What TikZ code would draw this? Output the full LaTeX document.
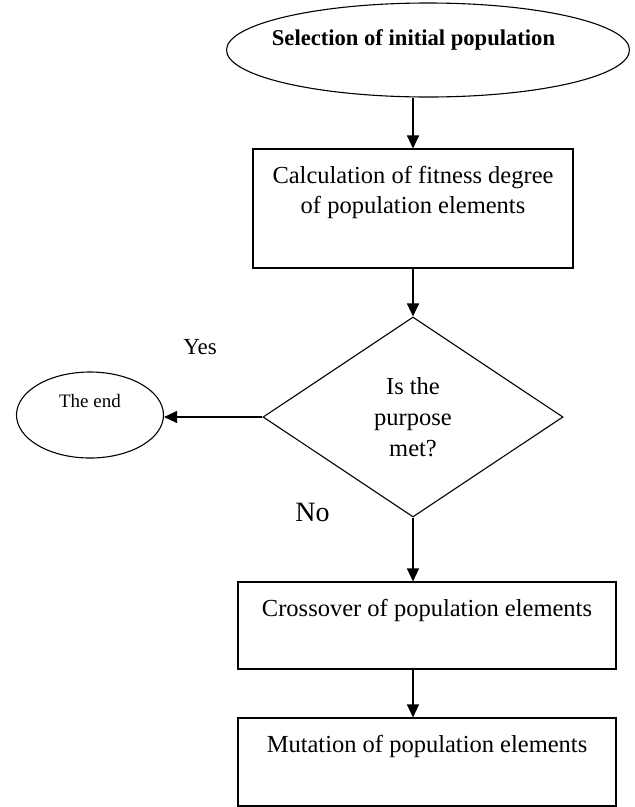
\documentclass[tikz,border=0pt]{standalone}
\usepackage{fontspec}
\setmainfont{Liberation Serif}
\usetikzlibrary{positioning,shapes.geometric,arrows.meta}
\tikzset{
    block/.style={
        rectangle,
        draw,
        line width=1.1pt,
        minimum width=320pt,
        minimum height=119pt
    },
    blocktext/.style={
        anchor=north,
        yshift=-14pt,
        align=center,
        font=\fontsize{24.5}{30}\selectfont
    },
    decision/.style={
        diamond,
        draw,
        line width=1.1pt,
        aspect=1.5,
        minimum width=300pt,
        minimum height=200pt,
        inner sep=0pt,
        align=center,
        font=\fontsize{24.5}{31}\selectfont
    },
    terminal/.style={ellipse, draw, line width=1.1pt},
    arrow/.style={-{Triangle[length=13pt,width=12pt]}, line width=1.1pt}
}

\begin{document}
\begin{tikzpicture}[x=1pt,y=-1pt]
    \useasboundingbox (0,0) rectangle (635,807);

    \node[terminal, minimum width=403pt, minimum height=94pt,
          label={[name=sellbl, xshift=-14.5pt, yshift=10pt, font=\bfseries\fontsize{22.6}{27}\selectfont]center:Selection of initial population}] (sel) at (428,50) {};
    \node[block, label={[blocktext, name=calclbl]90:Calculation of fitness degree\\of population elements}] (calc) at (413,208.5) {};
    \node[decision] (check) at (413,417) {Is the\\purpose\\met?};
    \node[terminal, minimum width=147pt, minimum height=86pt,
          label={[name=endlbl, yshift=14pt, font=\fontsize{19}{23}\selectfont]center:The end}] (theend) at (90,415) {};
    \node[font=\fontsize{23}{27}\selectfont] (yes) at (200,347) {Yes};
    \node[font=\fontsize{28}{33}\selectfont] (no) at (312.5,512.5) {No};
    \node[block, minimum width=378pt, minimum height=87pt,
          label={[blocktext, name=crosslbl]90:Crossover of population elements}] (cross) at (427,625.5) {};
    \node[block, minimum width=378pt, minimum height=88pt,
          label={[blocktext, name=mutlbl]90:Mutation of population elements}] (mut) at (427,762) {};

    \draw[arrow] (calc.north |- sel.south) -- (calc.north);
    \draw[arrow] (calc.south) -- (check.north);
    \draw[arrow] (check.west) -- (check.west -| theend.east);
    \draw[arrow] (check.south) -- (check.south |- cross.north);
    \draw[arrow] (cross.south -| check.south) -- (check.south |- mut.north);
\end{tikzpicture}
\end{document}
